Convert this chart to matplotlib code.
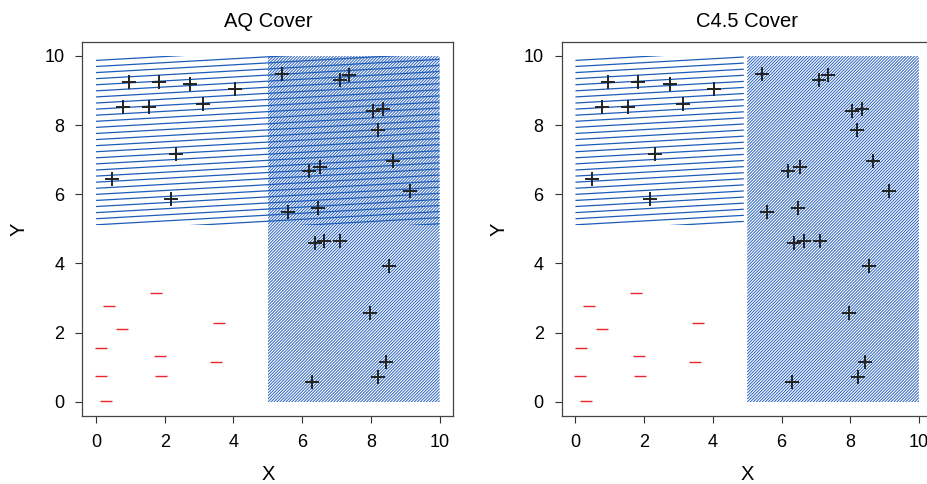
import numpy as np
import matplotlib
matplotlib.use("Agg")
from matplotlib import pyplot as plt
from matplotlib.collections import LineCollection
from matplotlib.patches import Rectangle

plt.rcParams['font.family'] = ['Liberation Sans', 'DejaVu Sans']

# positive examples (+)
pos_x = [0.95, 1.83, 2.74, 4.04, 0.78, 1.54, 3.12, 2.32, 0.47, 2.17,
         5.42, 7.09, 7.35, 8.06, 8.35, 8.21, 8.65, 6.19, 6.53, 9.14,
         5.59, 6.47, 6.37, 6.64, 7.11, 8.54, 7.96, 8.43, 8.22, 6.30]
pos_y = [9.24, 9.26, 9.18, 9.03, 8.52, 8.52, 8.60, 7.16, 6.43, 5.85,
         9.48, 9.29, 9.45, 8.41, 8.47, 7.87, 6.95, 6.67, 6.80, 6.09,
         5.50, 5.60, 4.59, 4.64, 4.64, 3.94, 2.56, 1.14, 0.71, 0.57]

# negative examples (-)
neg_x = [1.75, 0.39, 0.76, 3.57, 0.15, 1.85, 3.49, 0.14, 1.88, 0.30]
neg_y = [3.15, 2.77, 2.11, 2.28, 1.56, 1.32, 1.14, 0.75, 0.75, 0.02]

# rule regions (x0, x1, y0, y1)
aq_rule1 = (0.0, 10.0, 5.1, 10.0)
aq_rule2 = (5.0, 10.0, 0.0, 10.0)
c45_rule1 = (0.0, 4.9, 5.1, 10.0)
c45_rule2 = (5.0, 10.0, 0.0, 10.0)


def hatch(ax, box, angle, spacing, lw, color, phase=0.0):
    """Fill a rectangle with parallel lines at the given angle (degrees)."""
    x0, x1, y0, y1 = box
    slope = np.tan(np.radians(angle))
    # lines y = b + slope * x, spaced vertically by `spacing`
    lo = y0 - max(slope * x0, slope * x1)
    hi = y1 - min(slope * x0, slope * x1) - phase
    b = np.arange(hi, lo - spacing, -spacing)
    segs = [[(x0, bi + slope * x0), (x1, bi + slope * x1)] for bi in b]
    lc = LineCollection(segs, colors=color, linewidths=lw, zorder=1)
    ax.add_collection(lc, autolim=False)
    clip = Rectangle((x0, y0), x1 - x0, y1 - y0, transform=ax.transData)
    lc.set_clip_path(clip)


def panel(ax, title, rule1, rule2):
    hatch(ax, rule2, 45, 0.087, 0.7, "#2b63c0")
    hatch(ax, rule1, 3.2, 0.176, 0.9, "#1d5cb8", phase=0.13)
    ax.plot(pos_x, pos_y, '+', color="#222222", ms=10, mew=1.4, zorder=3)
    ax.plot(neg_x, neg_y, '_', color="#e8262b", ms=8, mew=1.0, zorder=3)
    ax.set_xlim(-0.4, 10.4)
    ax.set_ylim(-0.4, 10.4)
    ax.set_xticks([0, 2, 4, 6, 8, 10])
    ax.set_yticks([0, 2, 4, 6, 8, 10])
    ax.tick_params(direction='out', length=5, width=0.8, color="#333333",
                   labelsize=13)
    ax.tick_params(axis='x', pad=8)
    ax.tick_params(axis='y', pad=8)
    for s in ax.spines.values():
        s.set_color("#444444")
        s.set_linewidth(0.9)
    ax.set_title(title, fontsize=14.5, pad=11)
    ax.set_xlabel("X", fontsize=14.5, labelpad=10)
    ax.set_ylabel("Y", fontsize=14.5, labelpad=11)


fig = plt.figure(figsize=(9.28, 4.84), dpi=100)
ax1 = fig.add_axes([0.0887, 0.1411, 0.3998, 0.772])
ax2 = fig.add_axes([0.6053, 0.1411, 0.3998, 0.772])
panel(ax1, "AQ Cover", aq_rule1, aq_rule2)
panel(ax2, "C4.5 Cover", c45_rule1, c45_rule2)

fig.savefig("out.png", dpi=100)
